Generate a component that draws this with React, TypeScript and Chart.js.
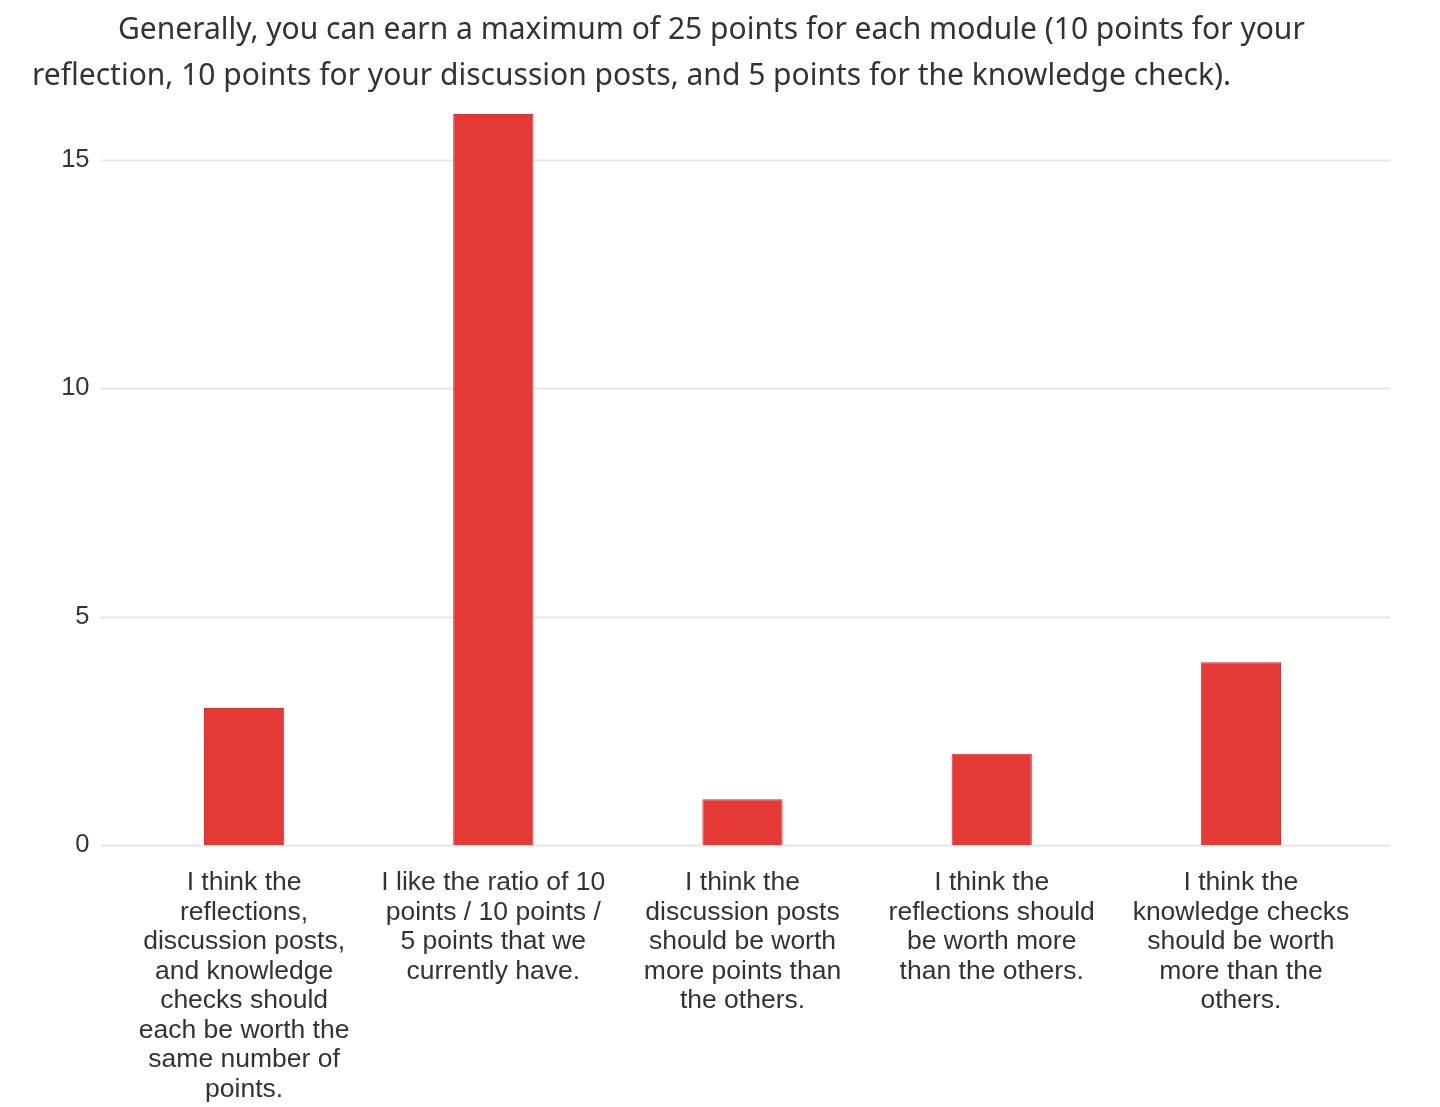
import React, { useEffect, useRef } from "react";
import { Chart, registerables } from "chart.js";

Chart.register(...registerables);

const titleLines: string[] = [
  "Generally, you can earn a maximum of 25 points for each module (10 points for your",
  "reflection, 10 points for your discussion posts, and 5 points for the knowledge check).",
];

const categories: string[][] = [
  [
    "I think the",
    "reflections,",
    "discussion posts,",
    "and knowledge",
    "checks should",
    "each be worth the",
    "same number of",
    "points.",
  ],
  ["I like the ratio of 10", "points / 10 points /", "5 points that we", "currently have."],
  ["I think the", "discussion posts", "should be worth", "more points than", "the others."],
  ["I think the", "reflections should", "be worth more", "than the others."],
  ["I think the", "knowledge checks", "should be worth", "more than the", "others."],
];

const counts: number[] = [3, 16, 1, 2, 4];
const yTicks: number[] = [0, 5, 10, 15];
const yMax = 16;

const gridPlugin = {
  id: "wideGrid",
  beforeDatasetsDraw(chart: any) {
    const { ctx, chartArea, scales } = chart;
    const y = scales.y;
    ctx.save();
    ctx.strokeStyle = "#e6e6e6";
    ctx.lineWidth = 2;
    for (const v of yTicks) {
      const py = Math.round(y.getPixelForValue(v)) + 0.5;
      ctx.beginPath();
      ctx.moveTo(chartArea.left - 19, py);
      ctx.lineTo(chartArea.right + 25, py);
      ctx.stroke();
    }
    ctx.restore();
  },
};

export default function App() {
  const canvasRef = useRef<HTMLCanvasElement | null>(null);

  useEffect(() => {
    if (!canvasRef.current) return;
    const chart = new Chart(canvasRef.current, {
      type: "bar",
      data: {
        labels: categories,
        datasets: [
          {
            data: counts,
            backgroundColor: "#e53935",
            borderColor: "#d8322f",
            borderWidth: 1,
            categoryPercentage: 1,
            barPercentage: 0.322,
          },
        ],
      },
      options: {
        animation: false,
        responsive: true,
        maintainAspectRatio: false,
        layout: { padding: { top: 114, right: 74.5, bottom: 0, left: 0 } },
        plugins: {
          legend: { display: false },
          tooltip: { enabled: false },
          title: { display: false },
        },
        scales: {
          x: {
            grid: { display: false, drawTicks: false },
            border: { display: false },
            ticks: {
              autoSkip: false,
              maxRotation: 0,
              minRotation: 0,
              padding: 23,
              color: "#333333",
              font: { family: "'Liberation Sans', Arial, sans-serif", size: 26.5, lineHeight: 1.113 },
            },
            afterFit(scale: any) {
              scale.height = 262;
            },
          },
          y: {
            min: 0,
            max: yMax,
            grid: { display: false, drawTicks: false },
            border: { display: false },
            afterBuildTicks(scale: any) {
              scale.ticks = yTicks.map((v) => ({ value: v }));
            },
            ticks: {
              padding: 30,
              color: "#333333",
              font: { family: "'Liberation Sans', Arial, sans-serif", size: 25.5 },
            },
            afterFit(scale: any) {
              scale.width = 119.5;
            },
          },
        },
      },
      plugins: [gridPlugin],
    });
    return () => chart.destroy();
  }, []);

  return (
    <div
      style={{
        position: "absolute",
        top: 0,
        left: 0,
        width: 1440,
        height: 1107,
        overflow: "hidden",
        background: "#ffffff",
      }}
    >
      <canvas ref={canvasRef} style={{ position: "absolute", top: 0, left: 0 }} />
      <div
        style={{
          position: "absolute",
          top: 0,
          left: 0,
          width: 1440,
          fontFamily: "'Noto Sans', sans-serif",
          fontSize: 30,
          color: "#333333",
          lineHeight: "46px",
        }}
      >
        <div style={{ position: "absolute", top: 5, left: 118, whiteSpace: "nowrap" }}>{titleLines[0]}</div>
        <div style={{ position: "absolute", top: 51, left: 32, whiteSpace: "nowrap" }}>{titleLines[1]}</div>
      </div>
    </div>
  );
}
